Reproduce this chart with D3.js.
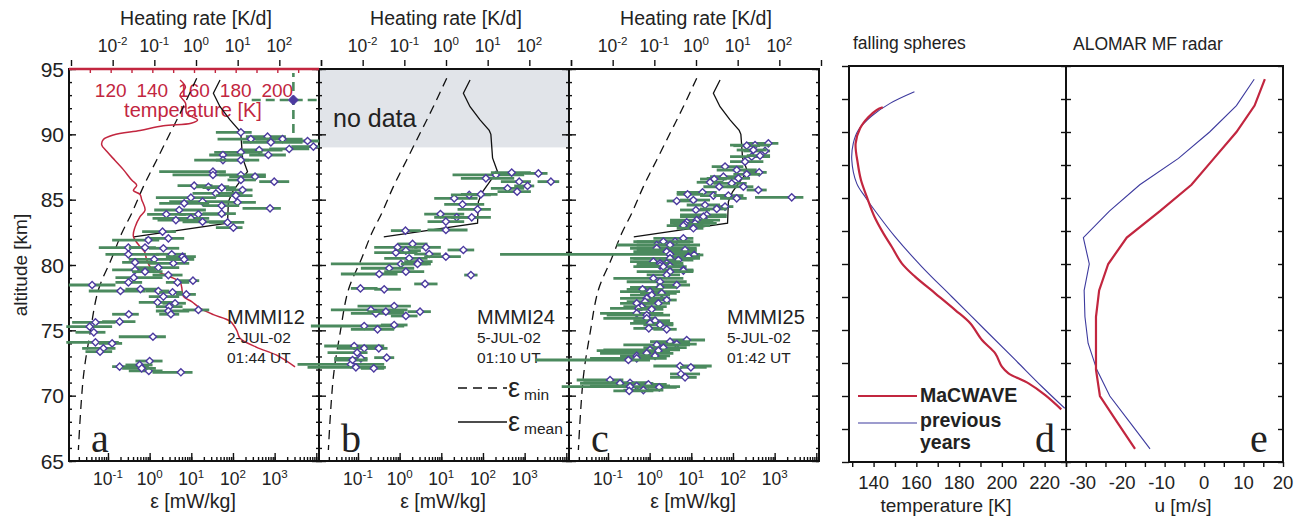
<!DOCTYPE html>
<html>
<head>
<meta charset="utf-8">
<script src="https://cdn.jsdelivr.net/npm/d3@7"></script>
<style>
body { margin: 0; background: #fff; }
svg text { font-family: "Liberation Sans", Arial, Helvetica, sans-serif; fill: #222; }
</style>
</head>
<body>
<svg id="chart" width="1305" height="518"></svg>
<script>
// ---- data ----
// rocket soundings: [altitude km, log10 eps, log10 eps low, log10 eps high]
const pointsA = [
	[90.15,2.19,1.59,2.45],[89.82,2.83,2.31,3.27],[89.64,2.43,1.63,3.03],[89.64,3.19,2.55,3.67],
	[89.49,3.79,3.27,4.07],[89.39,2.91,2.23,3.67],[89.06,3.93,3.40,4.07],[88.88,3.35,2.87,3.83],
	[88.80,2.63,2.23,3.19],[88.62,2.19,1.55,2.71],[88.42,2.85,2.39,3.27],[88.42,1.76,1.43,2.23],
	[88.03,1.76,1.07,2.39],[88.03,2.19,1.59,2.63],[87.14,1.52,0.23,1.83],[86.89,1.52,0.55,1.83],
	[86.89,2.19,1.67,2.79],[86.76,2.53,1.91,2.79],[86.51,2.19,1.87,2.55],[86.38,2.99,2.63,3.35],
	[86.07,1.07,0.67,1.51],[85.99,1.41,1.11,1.91],[85.92,1.73,1.27,2.07],[85.74,2.23,1.83,2.47],
	[85.48,1.59,1.03,2.23],[85.31,2.07,1.59,2.47],[85.15,0.99,0.15,1.59],[84.85,1.27,0.47,1.91],
	[84.72,0.83,0.23,1.43],[84.80,2.11,1.75,2.55],[84.54,1.73,1.27,2.15],[84.34,2.89,2.23,3.15],
	[84.21,0.71,0.11,1.35],[83.88,0.40,-0.06,0.87],[83.88,1.17,0.71,1.83],[83.93,1.73,1.27,2.07],
	[83.57,0.99,0.07,1.43],[83.44,0.63,0.19,1.27],[83.31,1.27,0.79,1.83],[83.26,1.87,1.43,2.27],
	[82.86,2.01,1.59,2.23],[82.55,0.31,-0.18,0.63],[82.04,0.45,-0.10,0.83],[81.91,-0.03,-0.90,0.23],
	[81.33,-0.51,-1.22,-0.02],[81.28,0.33,-0.02,0.71],[81.33,-0.11,-0.50,0.15],[80.82,-0.51,-1.06,0.23],
	[80.82,0.53,0.15,0.87],[80.64,0.79,0.39,1.11],[80.43,0.11,-0.50,0.87],[80.20,-0.35,-0.66,0.15],
	[80.13,0.57,-0.02,0.95],[80.43,0.83,0.47,1.07],[79.80,0.21,-0.34,0.71],[79.62,-0.35,-0.90,0.15],
	[79.49,-0.11,-0.42,0.31],[79.23,0.45,0.07,0.79],[79.03,-0.38,-0.82,0.31],[78.80,1.04,0.63,1.19],
	[78.67,0.67,0.39,0.95],[78.47,-1.38,-1.94,-0.82],[78.67,-0.51,-0.82,-0.18],[78.01,-0.70,-1.46,-0.10],
	[78.16,-0.22,-0.58,0.23],[78.01,0.21,-0.10,0.47],[77.91,0.55,0.23,0.79],[77.75,0.88,0.63,1.11],
	[77.58,0.33,-0.02,0.71],[77.14,0.19,-0.26,0.63],[77.07,0.61,0.31,0.87],[76.81,0.47,0.15,0.79],
	[76.56,1.17,0.79,1.43],[76.48,0.45,0.15,0.95],[76.23,0.51,0.23,0.71],[76.23,-0.50,-0.90,-0.26],
	[75.66,-0.72,-1.14,-0.34],[75.61,-1.30,-1.86,-0.82],[75.28,-1.44,-2.00,-0.90],[74.85,-1.34,-1.78,-1.06],
	[74.51,0.08,-0.74,0.39],[74.08,-1.30,-2.00,-0.74],[74.00,-0.90,-1.22,-0.66],[73.62,-1.11,-1.62,-0.82],
	[73.37,-1.19,-1.54,-0.90],[72.65,0.00,-0.34,0.31],[72.22,-0.72,-0.90,-0.02],[72.35,-0.24,-0.58,0.07],
	[71.89,-0.02,-0.50,0.31],[71.79,0.75,0.07,1.03],[72.09,-0.19,-0.66,0.15]
];
const pointsB = [
	[86.89,2.31,1.27,2.99],[87.07,2.69,2.19,3.15],[87.01,3.33,2.99,3.55],[86.63,2.07,1.47,2.75],
	[86.38,3.63,3.31,3.83],[86.38,2.87,2.43,3.15],[85.87,2.59,2.19,2.99],[85.61,2.82,2.35,3.15],
	[86.05,3.07,2.75,3.23],[85.10,1.31,0.83,1.87],[85.36,1.67,1.23,2.19],[85.41,1.95,1.47,2.35],
	[84.64,1.51,1.07,2.03],[84.26,1.87,1.39,2.19],[83.90,0.98,0.59,1.55],[83.65,1.37,0.83,1.87],
	[83.65,1.73,1.23,2.19],[83.32,1.11,0.67,1.55],[82.63,0.14,-0.21,0.51],[82.68,1.11,0.67,1.63],
	[81.61,0.31,-0.05,0.67],[81.35,-0.05,-0.61,0.43],[81.35,0.63,0.35,0.99],[81.15,1.53,1.15,1.79],
	[81.10,0.15,-0.13,0.51],[80.94,-0.09,-0.61,0.43],[80.84,0.71,0.35,0.99],[80.64,1.11,0.59,1.47],
	[80.51,0.23,-0.37,0.67],[80.26,0.47,0.11,0.79],[80.08,0.03,-1.65,0.67],[80.08,0.43,0.03,0.75],
	[79.75,-0.25,-0.93,0.35],[79.49,0.15,-0.37,0.59],[79.31,-0.49,-1.41,-0.05],[79.23,1.71,1.55,1.87],
	[78.55,0.61,0.35,0.91],[78.21,-0.94,-1.17,-0.53],[78.14,-0.37,-0.61,0.03],[76.86,-0.13,-1.01,0.27],
	[76.56,-0.69,-1.65,0.19],[76.30,-0.57,-1.17,0.11],[76.43,-0.33,-0.77,0.11],[76.43,0.49,0.19,0.75],
	[76.10,0.15,-0.21,0.43],[75.33,-0.85,-2.13,0.11],[75.41,-0.13,-0.45,0.19],[75.08,-0.53,-1.17,-0.13],
	[73.80,-1.09,-1.81,-0.37],[73.62,-0.85,-1.49,-0.37],[73.62,-0.50,-0.77,-0.29],[73.29,-1.02,-1.73,-0.77],
	[72.86,-0.93,-1.57,-0.77],[72.91,-0.31,-0.61,-0.13],[72.40,-1.17,-2.45,-0.37],[72.17,-1.05,-2.21,-0.33],
	[72.09,-0.62,-0.93,-0.37],[72.73,-1.13,-1.57,-0.77]
];
const pointsC = [
	[89.31,2.85,2.33,3.09],[89.18,2.53,1.93,2.89],[89.13,2.33,2.01,2.65],[88.73,2.77,2.25,2.89],
	[88.80,2.49,2.09,2.81],[88.29,2.45,1.93,2.89],[88.37,2.65,2.33,2.89],[87.91,2.29,1.93,2.73],
	[87.53,1.81,1.49,2.25],[87.27,2.09,1.61,2.57],[87.09,2.63,2.25,2.81],[86.94,2.33,2.01,2.65],
	[86.76,1.77,1.45,2.17],[86.63,2.13,1.37,2.41],[86.58,1.55,1.21,1.85],[86.33,1.45,1.13,1.77],
	[86.25,1.97,1.53,2.33],[85.99,1.67,1.29,2.09],[85.99,2.25,1.85,2.49],[85.74,2.61,2.33,2.81],
	[85.56,1.27,0.65,1.61],[85.41,0.91,0.65,1.29],[85.31,1.53,1.21,1.85],[85.31,1.89,1.53,2.25],
	[85.10,2.09,1.69,2.33],[85.18,3.41,2.53,3.69],[84.90,0.65,0.41,1.13],[84.97,1.05,0.73,1.45],
	[84.59,1.33,0.89,1.69],[84.47,1.81,1.53,2.01],[84.29,1.61,1.21,1.85],[84.21,1.11,0.73,1.45],
	[83.83,1.37,0.73,1.85],[83.70,1.29,0.73,1.85],[83.44,1.13,0.49,1.69],[83.27,0.89,0.49,1.53],
	[83.19,1.09,0.49,1.61],[83.11,0.85,0.57,1.29],[83.01,0.81,0.41,1.45],[82.81,1.05,0.65,1.29],
	[82.04,0.81,0.09,1.05],[81.79,0.61,-0.31,0.97],[81.79,0.33,-0.39,1.05],[81.53,0.17,-0.79,0.97],
	[81.53,0.49,-0.31,1.21],[81.28,0.17,-0.47,1.13],[81.15,0.85,-0.31,1.13],[81.02,0.41,-0.39,1.13],
	[80.82,0.49,-3.59,1.21],[80.77,1.07,0.73,1.29],[80.64,0.93,0.49,1.21],[80.51,0.49,-0.39,0.81],
	[80.51,0.49,-0.47,1.21],[80.38,0.69,0.25,1.05],[80.26,0.09,-0.47,0.73],[80.13,0.41,-0.31,0.81],
	[80.13,0.25,-0.23,0.65],[79.95,0.25,-0.31,0.81],[79.92,0.49,-0.31,0.81],[79.87,0.33,-0.39,0.89],
	[79.62,0.81,0.33,1.05],[79.57,0.81,0.49,1.05],[79.49,0.49,-0.31,1.05],[79.24,0.41,-0.07,0.73],
	[78.98,0.09,-0.87,0.81],[78.72,0.25,-0.55,0.89],[78.47,0.65,0.17,0.97],[78.29,0.25,-0.47,0.65],
	[78.14,-0.17,-0.55,0.33],[77.96,0.01,-0.71,0.73],[77.83,0.29,-0.23,0.65],[77.70,0.05,-0.47,0.49],
	[77.45,-0.07,-0.71,0.49],[77.32,0.41,-0.07,0.65],[77.19,-0.11,-0.55,0.25],[77.07,0.21,-0.15,0.49],
	[77.07,-0.31,-0.71,0.09],[76.81,-0.19,-0.63,0.41],[76.68,-0.27,-0.95,0.17],[76.61,0.05,-0.31,0.33],
	[76.30,-0.31,-1.19,0.33],[76.17,-0.07,-1.03,0.49],[75.92,-0.07,-1.11,0.17],[75.74,0.13,-0.39,0.49],
	[75.54,0.01,-0.47,0.57],[75.41,0.25,-0.15,0.57],[75.15,-0.02,-0.39,0.25],[75.08,0.41,0.09,0.65],
	[74.26,0.89,0.49,1.33],[74.13,0.49,0.01,0.97],[73.95,0.65,0.17,1.13],[73.88,0.17,-0.63,0.97],
	[73.67,0.33,-0.15,0.89],[73.50,0.01,-1.11,0.73],[73.44,0.21,-1.27,0.49],[73.24,-0.07,-1.19,0.57],
	[73.04,-0.31,-0.71,0.09],[73.04,0.13,-0.31,0.49],[72.86,-0.31,-1.43,0.41],[72.73,-0.51,-2.75,0.01],
	[72.27,0.73,0.09,1.49],[72.17,0.99,0.73,1.37],[71.66,0.75,0.49,1.21],[71.40,0.85,0.49,1.13],
	[71.20,-0.95,-1.75,-0.63],[70.99,-0.47,-1.59,0.01],[70.94,-0.71,-1.67,0.09],[70.87,-0.03,-0.47,0.41],
	[70.74,-0.31,-1.43,0.49],[70.69,-0.47,-2.11,0.73],[70.64,0.23,-0.31,0.65],[70.43,-0.15,-0.63,0.33],
	[70.36,-0.49,-0.87,0.09]
];
// single point at top of panel a with dashed error bars: [alt, log eps, low, high, alt low, alt high]
const outlierA = [92.63, 3.45, 2.45, 4.04, 90.1, 94.7];

// reference profiles [altitude km, log10 eps]
const epsMin = [[94.29,1.13],[91.86,0.77],[90.08,0.49],[88.04,0.17],[86.0,-0.15],[83.96,-0.43],
	[82.43,-0.67],[80.51,-0.91],[78.09,-1.23],[74.77,-1.43],[71.45,-1.59],[65.84,-1.71]];
const epsMean = [[94.16,1.69],[93.14,1.53],[92.11,1.69],[91.1,1.93],[90.3,2.15],[90.0,2.19],
	[88.2,2.23],[87.14,2.35],[86.5,2.19],[85.6,1.99],[84.85,1.89],[83.2,1.87],[82.15,-0.38]];

// MMMI12 temperature [altitude km, K]
const tempA = [[94.16,153.3],[93.6,155.9],[93.0,153.3],[92.4,155.9],[91.6,156.5],[91.1,161.7],
	[90.85,158.6],[90.65,145.3],[90.3,134.1],[89.95,121.3],[89.6,116.5],[89.2,115.7],[88.7,118.1],
	[88.0,122.1],[87.3,126.1],[86.5,130.1],[86.1,132.5],[85.7,130.9],[85.4,134.1],[85.0,134.9],
	[84.2,136.5],[83.7,134.1],[82.9,131.7],[82.2,130.9],[81.4,134.1],[81.0,136.3],[80.4,137.3],
	[79.7,139.7],[79.4,143.7],[79.1,148.5],[78.7,153.3],[78.3,154.1],[77.6,154.9],[77.2,158.9],
	[76.7,162.9],[76.2,169.3],[75.7,177.3],[75.0,180.5],[74.4,182.1],[73.7,190.1],[73.1,199.7],[72.2,208.5]];

// falling spheres [altitude km, K]
const tempMacwave = [[91.87,144.3],[91.67,141.5],[91.11,137.5],[90.28,133.7],[89.14,131.6],[87.63,132.6],
	[86.36,134.1],[85.10,136.8],[83.58,140.4],[82.32,144.6],[81.31,148.5],[80.05,153.2],[79.04,159.4],
	[77.78,168.8],[76.51,178.2],[75.51,185.2],[74.24,190.7],[73.23,196.9],[72.22,200.0],[71.72,203.1],
	[70.96,212.5],[70.07,220.3],[68.99,227.8]];
const tempPrevious = [[93.05,159.1],[92.17,147.7],[91.21,139.1],[90.15,132.9],[89.14,130.5],[87.88,129.8],
	[86.11,132.1],[85.10,136.0],[84.09,140.4],[82.07,150.0],[79.79,162.6],[77.52,176.6],[75.0,192.2],
	[72.73,206.3],[70.70,218.8],[69.07,229.4]];

// MF radar zonal wind [altitude km, m/s]
const windMacwave = [[94,15.4],[92,12.8],[90,8.2],[88,2.5],[86,-3.2],[84,-11.2],[82,-19.6],[80,-24.3],
	[78,-26.6],[76,-27.4],[72,-27.4],[70,-26.4],[68,-22.0],[66,-17.5]];
const windPrevious = [[94,12.7],[92,8.2],[90,1.4],[88,-6.5],[86,-16.3],[84,-24.0],[82,-30.6],[80,-29.1],
	[78,-30.4],[76,-30.2],[74,-29.4],[72,-27.2],[70,-23.9],[68,-18.8],[66,-13.7]];

const flights = [
	{ name: "MMMI12", date: "2-JUL-02", time: "01:44 UT", letter: "a", points: pointsA },
	{ name: "MMMI24", date: "5-JUL-02", time: "01:10 UT", letter: "b", points: pointsB },
	{ name: "MMMI25", date: "5-JUL-02", time: "01:42 UT", letter: "c", points: pointsC }
];
const heatExponents = ["-2", "-1", "0", "1", "2"];
const epsExponents = ["-1", "0", "1", "2", "3"];
const tempTicksA = [120, 140, 160, 180, 200];

// ---- styles ----
const green = "#4b8a5e", purple = "#4c3aa0", red = "#c2263f", navy = "#3d3a9e";

const svg = d3.select("#chart");
const panelLeft = [69, 319, 569];
const panelW = 250;
const yABC = d3.scaleLinear().domain([65, 95]).range([461, 69]);
const yDE = d3.scaleLinear().domain([65, 95]).range([462, 66]);

function epsScale(L) {
	return d3.scaleLog().domain([Math.pow(10, -1.935), Math.pow(10, 4.065)]).range([L, L + panelW]);
}
const p10 = v => Math.pow(10, v);

function stripDomain(g) { g.select(".domain").remove(); g.selectAll("line").attr("stroke", "#111").attr("stroke-width", 1.4); }

function powLabel(g, x, y, exp, size) {
	let t = g.append("text").attr("x", x).attr("y", y).attr("text-anchor", "middle").attr("font-size", size);
	t.append("tspan").text("10");
	t.append("tspan").attr("dy", -size * 0.42).attr("font-size", size * 0.66).text(exp);
}

function diamond(cx, cy, r) {
	return "M" + cx + "," + (cy - r) + "L" + (cx + r) + "," + cy + "L" + cx + "," + (cy + r) + "L" + (cx - r) + "," + cy + "Z";
}

// gray "no data" box in panel b
svg.append("rect").attr("x", panelLeft[1]).attr("y", yABC(95)).attr("width", panelW)
	.attr("height", yABC(89) - yABC(95)).attr("fill", "#e1e4e9");
svg.append("text").attr("x", panelLeft[1] + 14).attr("y", 127).attr("font-size", 25).text("no data");

// frames, ticks, axis labels for a-c
panelLeft.forEach(function(L, i) {
	let x = epsScale(L);
	let g = svg.append("g");
	g.append("rect").attr("x", L).attr("y", yABC(95)).attr("width", panelW).attr("height", yABC(65) - yABC(95))
		.attr("fill", "none").attr("stroke", "#111").attr("stroke-width", 2);

	let all = x.ticks();
	let major = all.filter(v => Math.abs(Math.log10(v) - Math.round(Math.log10(v))) < 1e-6);
	g.append("g").attr("transform", "translate(0," + yABC(65) + ")")
		.call(d3.axisTop(x).tickValues(all).tickSize(4).tickFormat("")).call(stripDomain);
	g.append("g").attr("transform", "translate(0," + yABC(65) + ")")
		.call(d3.axisTop(x).tickValues(major).tickSize(8).tickFormat("")).call(stripDomain);

	epsExponents.forEach(e => powLabel(g, x(p10(+e)), 485, e, 17.5));
	g.append("text").attr("x", L + panelW / 2 - 1).attr("y", 508).attr("text-anchor", "middle")
		.attr("font-size", 19.5).text("ε [mW/kg]");

	// heating rate axis above the frame
	let h = d3.scaleLog().domain([1e-3, 1e3]).range([L + 2, L + panelW + 2]);
	g.append("g").attr("transform", "translate(0,66)")
		.call(d3.axisTop(h).tickValues([1e-3, 1e-2, 1e-1, 1, 10, 100, 1000]).tickSize(6).tickFormat("")).call(stripDomain);
	heatExponents.forEach(e => powLabel(g, h(p10(+e)), 52, e, 17.5));
	g.append("text").attr("x", L + panelW / 2 + 2).attr("y", 25).attr("text-anchor", "middle")
		.attr("font-size", 19.5).text("Heating rate [K/d]");

	// altitude ticks, inward on both sides
	let yMinor = d3.range(65, 96, 1), yMajor = d3.range(65, 96, 5);
	[[d3.axisRight, L], [d3.axisLeft, L + panelW]].forEach(function(a) {
		g.append("g").attr("transform", "translate(" + a[1] + ",0)")
			.call(a[0](yABC).tickValues(yMinor).tickSize(3).tickFormat("")).call(stripDomain);
		g.append("g").attr("transform", "translate(" + a[1] + ",0)")
			.call(a[0](yABC).tickValues(yMajor).tickSize(7).tickFormat("")).call(stripDomain);
	});
});

// altitude labels (panel a only)
d3.range(65, 96, 5).forEach(function(v) {
	svg.append("text").attr("x", 64).attr("y", yABC(v)).attr("dy", "0.36em").attr("text-anchor", "end")
		.attr("font-size", 21).text(v);
});
svg.append("text").attr("transform", "translate(27,265) rotate(-90)").attr("text-anchor", "middle")
	.attr("font-size", 19).text("altitude [km]");

// temperature axis on top of panel a
let xTa = d3.scaleLinear().domain([100, 220]).range([panelLeft[0], panelLeft[0] + panelW]);
svg.append("g").attr("transform", "translate(0," + yABC(95) + ")")
	.call(d3.axisBottom(xTa).tickValues(d3.range(110, 220, 10)).tickSize(4).tickFormat(""))
	.call(g => { g.select(".domain").remove(); g.selectAll("line").attr("stroke", red).attr("stroke-width", 1.4); });
svg.append("line").attr("x1", panelLeft[0]).attr("x2", panelLeft[0] + panelW)
	.attr("y1", yABC(95)).attr("y2", yABC(95)).attr("stroke", red).attr("stroke-width", 2.5);
tempTicksA.forEach(function(v) {
	svg.append("text").attr("x", xTa(v)).attr("y", 97).attr("text-anchor", "middle")
		.attr("font-size", 19).style("fill", red).text(v);
});
svg.append("text").attr("x", 193).attr("y", 117).attr("text-anchor", "middle")
	.attr("font-size", 20).style("fill", red).text("temperature [K]");

// profiles and data points
flights.forEach(function(f, i) {
	let L = panelLeft[i];
	let x = epsScale(L);
	let g = svg.append("g");

	g.append("path").attr("d", d3.line().curve(d3.curveCatmullRom).x(d => x(p10(d[1]))).y(d => yABC(d[0]))(epsMin))
		.attr("fill", "none").attr("stroke", "#111").attr("stroke-width", 1.3).attr("stroke-dasharray", "9,6");
	g.append("path").attr("d", d3.line().x(d => x(p10(d[1]))).y(d => yABC(d[0]))(epsMean))
		.attr("fill", "none").attr("stroke", "#111").attr("stroke-width", 1.3);

	if (i === 0) {
		g.append("path").attr("d", d3.line().curve(d3.curveCatmullRom).x(d => xTa(d[1])).y(d => yABC(d[0]))(tempA))
			.attr("fill", "none").attr("stroke", red).attr("stroke-width", 1.5);
	}

	// error bar then symbol for each point, so later bars may cover earlier symbols
	let pts = g.selectAll("g.pt").data(f.points).enter().append("g").attr("class", "pt");
	pts.append("line")
		.attr("x1", d => x(p10(d[2]))).attr("x2", d => x(p10(d[3])))
		.attr("y1", d => yABC(d[0])).attr("y2", d => yABC(d[0]))
		.attr("stroke", green).attr("stroke-width", 2.8);
	pts.append("path")
		.attr("d", d => diamond(x(p10(d[1])), yABC(d[0]), 3.6))
		.attr("fill", "#fff").attr("stroke", purple).attr("stroke-width", 1.4);

	g.append("text").attr("x", L + 158).attr("y", 324).attr("font-size", 20).text(f.name);
	g.append("text").attr("x", L + 158).attr("y", 343).attr("font-size", 15.5).text(f.date);
	g.append("text").attr("x", L + 158).attr("y", 363).attr("font-size", 15.5).text(f.time);
	g.append("text").attr("x", L + 22).attr("y", 452).attr("font-size", 40)
		.style("font-family", "'Liberation Serif', 'Times New Roman', serif").text(f.letter);
});

// outlier point with dashed error bars in panel a
(function() {
	let x = epsScale(panelLeft[0]);
	let o = outlierA;
	let cx = x(p10(o[1])), cy = yABC(o[0]);
	svg.append("line").attr("x1", x(p10(o[2]))).attr("x2", x(p10(o[3]))).attr("y1", cy).attr("y2", cy)
		.attr("stroke", green).attr("stroke-width", 2.6).attr("stroke-dasharray", "9,5");
	svg.append("line").attr("x1", cx).attr("x2", cx).attr("y1", yABC(o[4])).attr("y2", yABC(o[5]))
		.attr("stroke", green).attr("stroke-width", 2.6).attr("stroke-dasharray", "9,5");
	svg.append("path").attr("d", diamond(cx, cy, 5)).attr("fill", purple).attr("stroke", purple);
})();

// eps legend in panel b
[["9,6", 388, "min", 397], [null, 422, "mean", 431]].forEach(function(l) {
	let ln = svg.append("line").attr("x1", 458).attr("x2", 507).attr("y1", l[1]).attr("y2", l[1])
		.attr("stroke", "#111").attr("stroke-width", 1.3);
	if (l[0]) ln.attr("stroke-dasharray", l[0]);
	let t = svg.append("text").attr("x", 508).attr("y", l[3]).attr("font-size", 27).text("ε");
	t.append("tspan").attr("dx", 4).attr("dy", 3).attr("font-size", 15.5).text(l[2]);
});

// ---- panels d and e ----
const xT = d3.scaleLinear().domain([128.5, 230]).range([849, 1066]);
const xU = d3.scaleLinear().domain([-35, 20]).range([1066, 1283]);

[[849, 1066], [1066, 1283]].forEach(function(b) {
	svg.append("rect").attr("x", b[0]).attr("y", yDE(95)).attr("width", b[1] - b[0]).attr("height", yDE(65) - yDE(95))
		.attr("fill", "none").attr("stroke", "#111").attr("stroke-width", 2);
});
let altTicks = d3.range(65, 95.1, 2.5);
[[d3.axisLeft, 849], [d3.axisLeft, 1066], [d3.axisRight, 1066], [d3.axisLeft, 1283]].forEach(function(a) {
	svg.append("g").attr("transform", "translate(" + a[1] + ",0)")
		.call(a[0](yDE).tickValues(altTicks).tickSize(a[1] === 849 ? 7 : 5).tickFormat("")).call(stripDomain);
});
svg.append("g").attr("transform", "translate(0," + yDE(65) + ")")
	.call(d3.axisBottom(xT).tickValues(d3.range(130, 231, 10)).tickSize(5).tickFormat("")).call(stripDomain);
svg.append("g").attr("transform", "translate(0," + yDE(65) + ")")
	.call(d3.axisBottom(xU).tickValues(d3.range(-35, 21, 5)).tickSize(5).tickFormat("")).call(stripDomain);

d3.range(140, 221, 20).forEach(function(v) {
	svg.append("text").attr("x", xT(v)).attr("y", 489).attr("text-anchor", "middle").attr("font-size", 18.5).text(v);
});
d3.range(-30, 21, 10).forEach(function(v) {
	svg.append("text").attr("x", xU(v) - (v < 0 ? 3 : 0)).attr("y", 489).attr("text-anchor", "middle")
		.attr("font-size", 18.5).text(v);
});
svg.append("text").attr("x", 946).attr("y", 512).attr("text-anchor", "middle").attr("font-size", 19).text("temperature [K]");
svg.append("text").attr("x", 1183).attr("y", 512).attr("text-anchor", "middle").attr("font-size", 19).text("u [m/s]");
svg.append("text").attr("x", 853).attr("y", 49).attr("font-size", 17.5).text("falling spheres");
svg.append("text").attr("x", 1073).attr("y", 50).attr("font-size", 17.5).text("ALOMAR MF radar");

let lineT = d3.line().curve(d3.curveCatmullRom).x(d => xT(d[1])).y(d => yDE(d[0]));
svg.append("path").attr("d", lineT(tempPrevious)).attr("fill", "none").attr("stroke", navy).attr("stroke-width", 1.1);
svg.append("path").attr("d", lineT(tempMacwave)).attr("fill", "none").attr("stroke", red).attr("stroke-width", 2.2);

let lineU = d3.line().x(d => xU(d[1])).y(d => yDE(d[0]));
svg.append("path").attr("d", lineU(windPrevious)).attr("fill", "none").attr("stroke", navy).attr("stroke-width", 1.1);
svg.append("path").attr("d", lineU(windMacwave)).attr("fill", "none").attr("stroke", red).attr("stroke-width", 2.2);

// legend in panel d
svg.append("line").attr("x1", 858).attr("x2", 917).attr("y1", 396).attr("y2", 396).attr("stroke", red).attr("stroke-width", 2.2);
svg.append("line").attr("x1", 858).attr("x2", 917).attr("y1", 423).attr("y2", 423).attr("stroke", navy).attr("stroke-width", 1.1);
[["MaCWAVE", 402], ["previous", 427], ["years", 449]].forEach(function(t) {
	svg.append("text").attr("x", 920).attr("y", t[1]).attr("font-size", 19.5).attr("font-weight", "bold").text(t[0]);
});

[["d", 1035], ["e", 1250]].forEach(function(t) {
	svg.append("text").attr("x", t[1]).attr("y", 452).attr("font-size", 40)
		.style("font-family", "'Liberation Serif', 'Times New Roman', serif").text(t[0]);
});
</script>
</body>
</html>
